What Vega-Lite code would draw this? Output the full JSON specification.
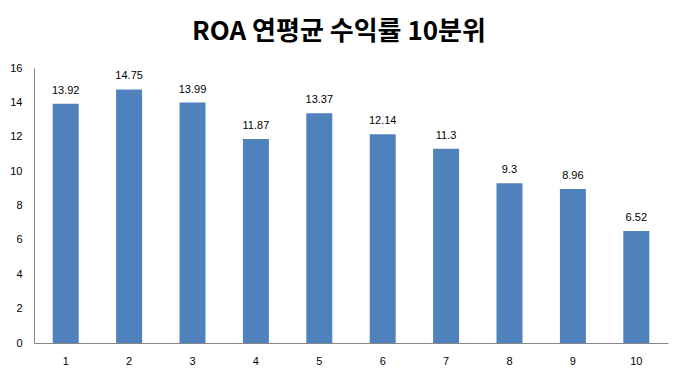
{
  "$schema": "https://vega.github.io/schema/vega-lite/v6.json",
  "autosize": "none",
  "padding": {"left": 34, "top": 68, "right": 10, "bottom": 34},
  "width": 634,
  "height": 275,
  "background": "white",
  "title": {
    "text": "ROA 연평균 수익률 10분위",
    "font": "Noto Sans CJK KR",
    "fontSize": 26,
    "fontWeight": "bold",
    "color": "#000000",
    "anchor": "middle",
    "offset": 17,
    "dx": -12
  },
  "data": {
    "values": [
      {"decile": "1", "roa": 13.92},
      {"decile": "2", "roa": 14.75},
      {"decile": "3", "roa": 13.99},
      {"decile": "4", "roa": 11.87},
      {"decile": "5", "roa": 13.37},
      {"decile": "6", "roa": 12.14},
      {"decile": "7", "roa": 11.3},
      {"decile": "8", "roa": 9.3},
      {"decile": "9", "roa": 8.96},
      {"decile": "10", "roa": 6.52}
    ]
  },
  "encoding": {
    "x": {
      "field": "decile",
      "type": "ordinal",
      "sort": null,
      "scale": {"paddingInner": 0.59, "paddingOuter": 0.295},
      "axis": {
        "title": null,
        "labelAngle": 0,
        "labelFont": "Liberation Sans",
        "labelFontSize": 11,
        "labelColor": "#000000",
        "labelPadding": 12,
        "ticks": false,
        "domainColor": "#868686",
        "grid": false
      }
    },
    "y": {
      "field": "roa",
      "type": "quantitative",
      "scale": {"domain": [0, 16], "nice": false},
      "axis": {
        "title": null,
        "values": [0, 2, 4, 6, 8, 10, 12, 14, 16],
        "labelFont": "Liberation Sans",
        "labelFontSize": 11,
        "labelColor": "#000000",
        "labelPadding": 12,
        "ticks": false,
        "domainColor": "#868686",
        "grid": false
      }
    }
  },
  "layer": [
    {"mark": {"type": "bar", "color": "#4F81BD"}},
    {
      "mark": {"type": "text", "baseline": "bottom", "dy": -8, "font": "Liberation Sans", "fontSize": 11, "color": "#000000"},
      "encoding": {"text": {"field": "roa", "type": "quantitative"}}
    }
  ],
  "config": {"view": {"stroke": null}}
}
